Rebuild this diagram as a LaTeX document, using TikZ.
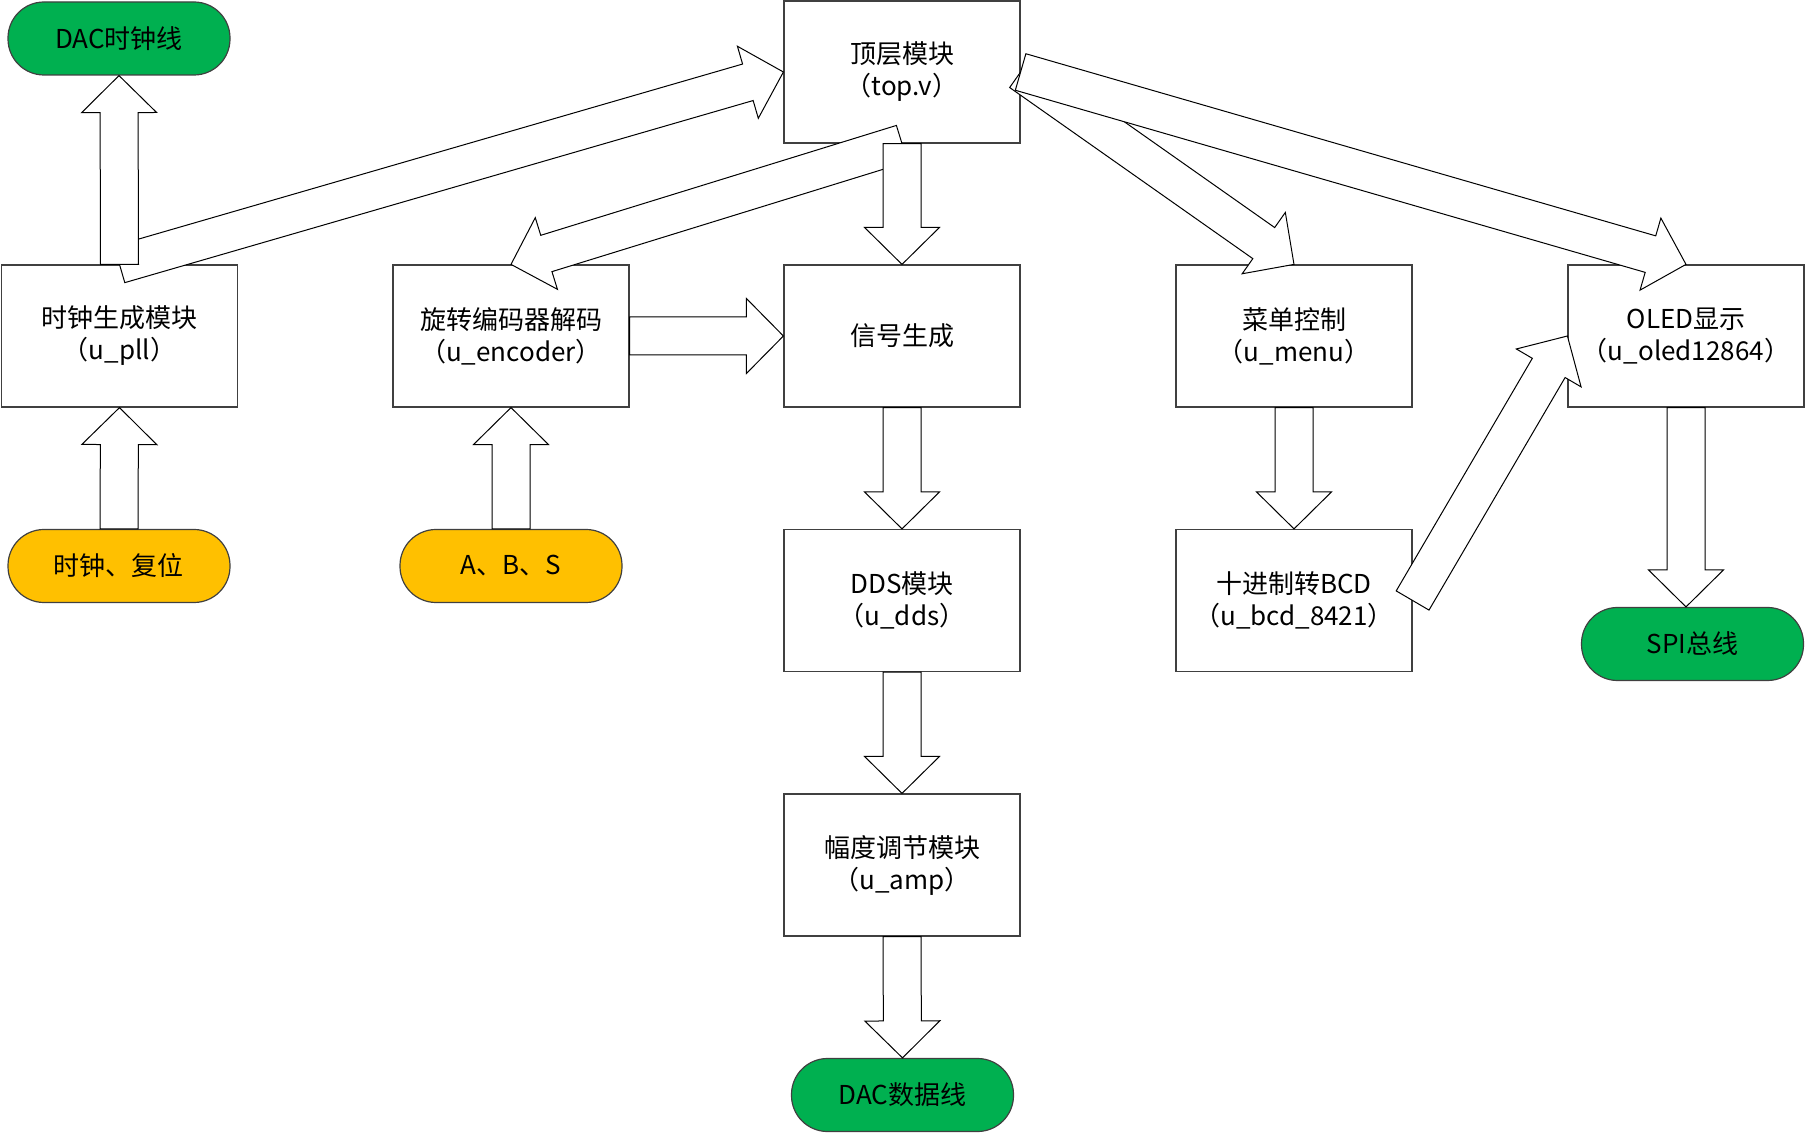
\documentclass[tikz,border=0pt]{standalone}
\usepackage{fontspec}
\setmainfont{Noto Sans CJK SC}
\usetikzlibrary{calc,positioning}
\definecolor{edgegray}{HTML}{404040}
\definecolor{portgrn}{HTML}{00B050}
\definecolor{portylw}{HTML}{FFC000}
\tikzset{
  modbox/.style={draw=edgegray,fill=white,line width=0.6pt,
                 minimum width=118pt,minimum height=71pt,
                 align=center,inner sep=2pt,font=\fontsize{13}{16}\selectfont},
  portbox/.style={draw=edgegray,line width=0.6pt,rounded corners=18pt,
                  minimum width=111pt,minimum height=36.5pt,
                  align=center,inner sep=2pt,font=\fontsize{13}{16}\selectfont},
  outport/.style={portbox,fill=portgrn},
  inport/.style={portbox,fill=portylw},
  fatarr/.style={draw=black,fill=white,line width=0.5pt,
    to path={($(\tikztostart)!9.5pt!90:(\tikztotarget)$)
      -- ($($(\tikztotarget)!18.5pt!(\tikztostart)$)!9.5pt!90:(\tikztotarget)$)
      -- ($($(\tikztotarget)!18.5pt!(\tikztostart)$)!18.75pt!90:(\tikztotarget)$)
      -- (\tikztotarget)
      -- ($($(\tikztotarget)!18.5pt!(\tikztostart)$)!18.75pt!-90:(\tikztotarget)$)
      -- ($($(\tikztotarget)!18.5pt!(\tikztostart)$)!9.5pt!-90:(\tikztotarget)$)
      -- ($(\tikztostart)!9.5pt!-90:(\tikztotarget)$) -- cycle}}
}
\begin{document}
\begin{tikzpicture}[x=0.5pt,y=-0.5pt]
  \useasboundingbox (0,0) rectangle (1806,1133);

  \node[outport] (dacclk) at (119,38.5) {DAC时钟线};
  \node[modbox] (clk) at (119.5,336) {时钟生成模块\\（u\_pll）};
  \node[inport] (rst) at (119,566) {时钟、复位};

  \node[modbox] (enc) at (511,336) {旋转编码器解码\\（u\_encoder）};
  \node[inport] (abs) at (511,566) {A、B、S};

  \node[modbox] (top) at (902,72) {顶层模块\\（top.v）};
  \node[modbox] (sig) at (902,336) {信号生成};
  \node[modbox] (dds) at (902,600.5) {DDS模块\\（u\_dds）};
  \node[modbox] (amp) at (902,865) {幅度调节模块\\（u\_amp）};
  \node[outport] (dacdat) at (902.5,1095) {DAC数据线};

  \node[modbox] (menu) at (1294,336) {菜单控制\\（u\_menu）};
  \node[modbox] (bcd) at (1294,600.5) {十进制转BCD\\（u\_bcd\_8421）};

  \node[modbox] (oled) at (1686,336) {OLED显示\\（u\_oled12864）};
  \node[outport] (spi) at (1692.5,644) {SPI总线};
  \coordinate (spitop) at (oled.south |- spi.north);

  \draw[fatarr] (rst.north) to (clk.south);
  \draw[fatarr] (abs.north) to (enc.south);
  \draw[fatarr] (clk.north) to (top.west);
  \draw[fatarr] (clk.north) to (dacclk.south);
  \draw[fatarr] (top.south) to (enc.north);
  \draw[fatarr] (top.south) to (sig.north);
  \draw[fatarr] (enc.east) to (sig.west);
  \draw[fatarr] (sig.south) to (dds.north);
  \draw[fatarr] (dds.south) to (amp.north);
  \draw[fatarr] (amp.south) to (dacdat.north);
  \draw[fatarr] (top.east) to (menu.north);
  \draw[fatarr] (top.east) to (oled.north);
  \draw[fatarr] (menu.south) to (bcd.north);
  \draw[fatarr] (bcd.east) to (oled.west);
  \draw[fatarr] (oled.south) to (spitop);
\end{tikzpicture}
\end{document}
